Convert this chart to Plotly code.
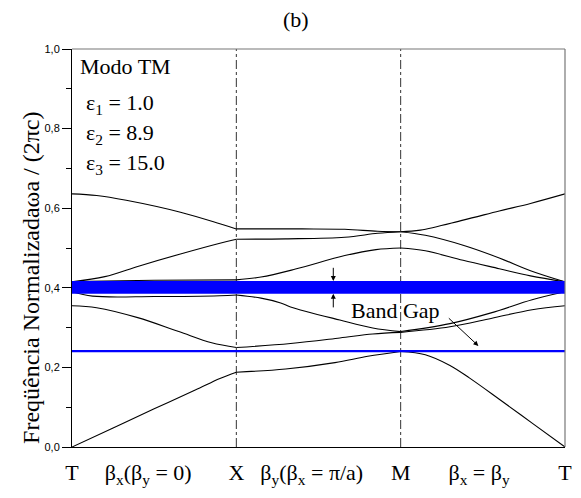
import plotly.graph_objects as go

# ---- data -------------------------------------------------------------
# path positions: T=0, X=1, M=2, T=3 ; None separates the three path segments
sym_k = [1, 2]  # X and M (dash-dot markers)
tick_k = [0, 0.464, 1, 1.459, 2, 2.477, 3]
tick_text = ['T', 'β<sub>x</sub>(β<sub>y</sub> = 0)', 'X',
             'β<sub>y</sub>(β<sub>x</sub> = π/a)', 'M',
             'β<sub>x</sub> = β<sub>y</sub>', 'T']

band1_k = [0, 0.25, 0.5, 0.75, 0.9, 1.0, None, 1.0, 1.3, 1.6, 1.8, 2.0, None, 2.0, 2.15, 2.3, 2.42, 2.6, 2.8, 3.0]
band1_w = [0, 0.048, 0.096, 0.143, 0.172, 0.188, None, 0.188, 0.196, 0.212, 0.228, 0.24, None, 0.24, 0.232, 0.205, 0.173, 0.12, 0.06, 0.0]

band2_k = [0, 0.15, 0.4, 0.65, 0.85, 1.0, None, 1.0, 1.33, 1.63, 1.83, 2.0, None, 2.0, 2.3, 2.55, 2.8, 3.0]
band2_w = [0.355, 0.35, 0.325, 0.29, 0.262, 0.25, None, 0.25, 0.26, 0.274, 0.284, 0.288, None, 0.288, 0.302, 0.323, 0.345, 0.355]

band3_k = [0, 0.125, 0.5, 0.9, 1.0, None, 1.0, 1.15, 1.27, 1.33, 1.63, 1.83, 2.0, None, 2.0, 2.3, 2.55, 2.8, 3.0]
band3_w = [0.39, 0.379, 0.378, 0.38, 0.382, None, 0.382, 0.374, 0.362, 0.352, 0.319, 0.299, 0.29, None, 0.29, 0.31, 0.337, 0.37, 0.39]

band4_k = [0, 0.5, 1.0, None, 1.0, 1.15, 1.36, 1.66, 1.85, 2.0, None, 2.0, 2.15, 2.38, 2.6, 2.79, 3.0]
band4_w = [0.416, 0.419, 0.42, None, 0.42, 0.427, 0.447, 0.481, 0.496, 0.50, None, 0.50, 0.493, 0.469, 0.448, 0.43, 0.415]

band5_k = [0, 0.2, 0.41, 0.66, 0.9, 1.0, None, 1.0, 1.3, 1.66, 1.86, 2.0, None, 2.0, 2.15, 2.38, 2.6, 2.79, 3.0]
band5_w = [0.415, 0.428, 0.455, 0.485, 0.512, 0.522, None, 0.522, 0.523, 0.527, 0.537, 0.541, None, 0.541, 0.532, 0.507, 0.475, 0.443, 0.415]

band6_k = [0, 0.15, 0.33, 0.66, 0.9, 1.0, None, 1.0, 1.4, 1.66, 1.86, 2.0, None, 2.0, 2.12, 2.38, 2.6, 2.79, 3.0]
band6_w = [0.636, 0.632, 0.62, 0.59, 0.561, 0.548, None, 0.548, 0.548, 0.547, 0.542, 0.541, None, 0.541, 0.545, 0.57, 0.593, 0.612, 0.636]

bands = [(band1_k, band1_w), (band2_k, band2_w), (band3_k, band3_w),
         (band4_k, band4_w), (band5_k, band5_w), (band6_k, band6_w)]

gap_wide = [0.385, 0.417]
gap_narrow = 0.241

# ---- figure -----------------------------------------------------------
SERIF = 'Liberation Serif'
SANS = 'Liberation Sans'
FS = 22

fig = go.Figure()
for k, w in bands:
    fig.add_trace(go.Scatter(x=k, y=w, mode='lines',
                             line=dict(color='black', width=1.1, shape='spline', smoothing=1.0),
                             hoverinfo='skip'))

# high-symmetry dash-dot lines
for xs in sym_k:
    fig.add_shape(type='line', x0=xs, x1=xs, y0=0, y1=1, xref='x', yref='y',
                  line=dict(color='#333333', width=1, dash='dashdot'), layer='below')

# band gaps
fig.add_shape(type='rect', x0=0, x1=3, y0=gap_wide[0], y1=gap_wide[1], xref='x', yref='y',
              fillcolor='#0000FF', line=dict(width=0), layer='above')
fig.add_shape(type='line', x0=0, x1=3, y0=gap_narrow, y1=gap_narrow, xref='x', yref='y',
              line=dict(color='#0000FF', width=2.2), layer='above')

# top / right frame
fig.add_shape(type='line', x0=0, x1=1, y0=1, y1=1, xref='paper', yref='paper',
              line=dict(color='#777777', width=1.2))
fig.add_shape(type='line', x0=1, x1=1, y0=0, y1=1, xref='paper', yref='paper',
              line=dict(color='#777777', width=1.2))

ann = []
# gap arrows
ann.append(dict(x=1.59, y=gap_wide[1], ax=1.59, ay=0.454, xref='x', yref='y', axref='x', ayref='y',
                text='', showarrow=True, arrowhead=2, arrowsize=1, arrowwidth=1, arrowcolor='black'))
ann.append(dict(x=1.59, y=gap_wide[0], ax=1.59, ay=0.347, xref='x', yref='y', axref='x', ayref='y',
                text='', showarrow=True, arrowhead=2, arrowsize=1, arrowwidth=1, arrowcolor='black'))
ann.append(dict(x=2.473, y=0.254, ax=2.284, ay=0.327, xref='x', yref='y', axref='x', ayref='y',
                text='', showarrow=True, arrowhead=2, arrowsize=1, arrowwidth=1, arrowcolor='black'))
ann.append(dict(x=1.97, y=0.344, xref='x', yref='y', text='Band Gap', showarrow=False,
                font=dict(family=SERIF, size=FS, color='black')))

# info text
info = ['Modo TM', 'ε<sub>1</sub> = 1.0', 'ε<sub>2</sub> = 8.9', 'ε<sub>3</sub> = 15.0']
info_y = [0.955, 0.862, 0.787, 0.712]
info_x = [0.013, 0.025, 0.025, 0.025]
for t, yy, xx in zip(info, info_y, info_x):
    ann.append(dict(x=xx, y=yy, xref='paper', yref='paper', text=t, showarrow=False,
                    xanchor='left', yanchor='middle', font=dict(family=SERIF, size=FS, color='black')))

# title
ann.append(dict(x=0.455, y=1.073, xref='paper', yref='paper', text='(b)', showarrow=False,
                xanchor='center', yanchor='middle', font=dict(family=SERIF, size=FS, color='black')))

# y-axis title (rotated)
ann.append(dict(x=-0.083, y=0.425, xref='paper', yref='paper', text='Freqüência Normalizadaωa / (2πc)',
                textangle=-90, showarrow=False, xanchor='center', yanchor='middle',
                font=dict(family=SERIF, size=24, color='black')))

fig.update_layout(
    width=581, height=498,
    margin=dict(l=72, r=16, t=49, b=51, autoexpand=False),
    plot_bgcolor='white', paper_bgcolor='white',
    showlegend=False, separators=',.',
    annotations=ann,
    xaxis=dict(range=[0, 3], tickvals=tick_k, ticktext=tick_text, ticks='', automargin=False,
               showline=True, linecolor='black', linewidth=1, showgrid=False, zeroline=False,
               tickfont=dict(family=SERIF, size=FS, color='black'), ticklabelstandoff=6),
    yaxis=dict(range=[0, 1], tick0=0, dtick=0.2, tickformat='.1f', ticks='outside', automargin=False,
               ticklen=9, tickcolor='black', tickwidth=1,
               minor=dict(ticks='outside', ticklen=5, dtick=0.1, tickcolor='black', tickwidth=1),
               showline=True, linecolor='black', linewidth=1, showgrid=False, zeroline=False,
               tickfont=dict(family=SANS, size=11, color='black')),
)

fig.write_html('out.html', config={'displayModeBar': False},
               post_script="document.body.style.margin='0px';document.body.style.overflow='hidden';")
